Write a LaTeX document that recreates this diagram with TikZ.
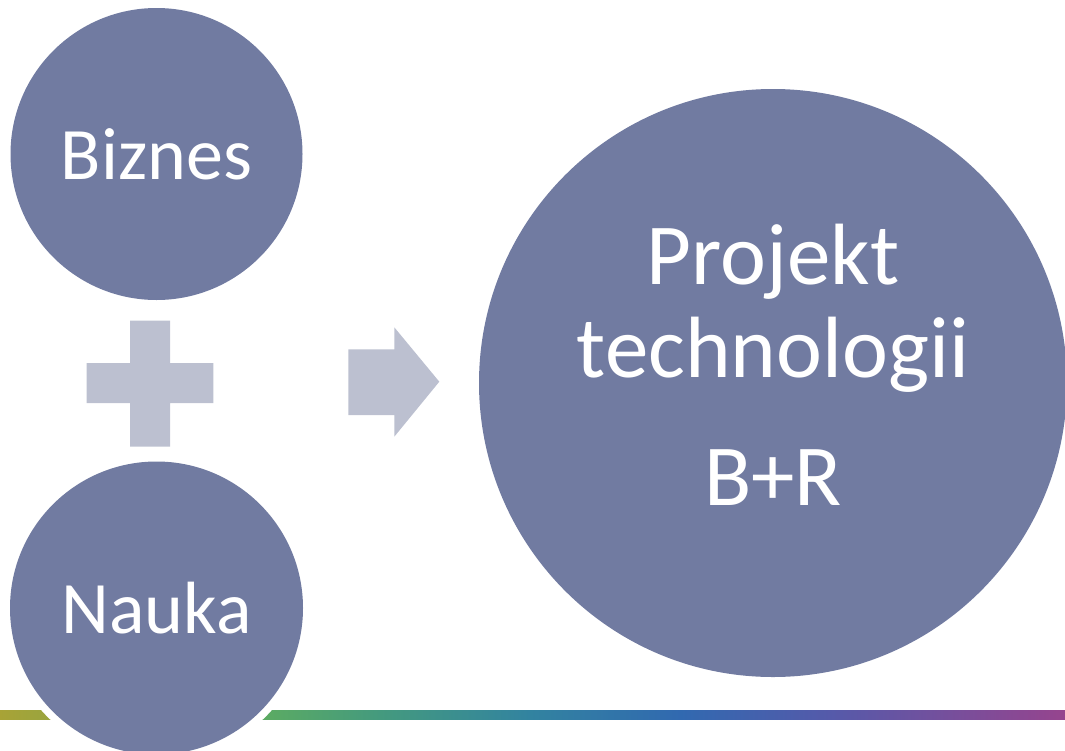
\documentclass[tikz,border=0pt]{standalone}
\usepackage{fontspec}
\setmainfont{Carlito}
\usepackage{tikz}
\usetikzlibrary{positioning}

\definecolor{discfill}{RGB}{113,123,161}
\definecolor{signfill}{RGB}{188,192,208}
\definecolor{olive}{RGB}{168,163,54}
\definecolor{leaf}{RGB}{90,170,100}
\definecolor{teal}{RGB}{68,154,126}
\definecolor{sea}{RGB}{50,131,160}
\definecolor{ocean}{RGB}{49,105,176}
\definecolor{indigo}{RGB}{85,90,170}
\definecolor{plum}{RGB}{150,68,142}

\tikzset{
  disc/.style={circle, fill=discfill, text=white, inner sep=0pt},
  sign/.style={fill=signfill, draw=none},
  bigtext/.style={text=white, align=center, font=\fontsize{87}{93}\selectfont}
}

\begin{document}
\begin{tikzpicture}[x=1pt, y=-1pt]
    \useasboundingbox (0,0) rectangle (1065,750);
    \clip (0,0) rectangle (1065,750);
    % colour bar at the bottom
    \shade[left color=olive, right color=leaf] (0,710) rectangle (270,719);
    \shade[left color=leaf, right color=teal] (270,710) rectangle (380,719);
    \shade[left color=teal, right color=sea] (380,710) rectangle (530,719);
    \shade[left color=sea, right color=ocean] (530,710) rectangle (680,719);
    \shade[left color=ocean, right color=indigo] (680,710) rectangle (830,719);
    \shade[left color=indigo, right color=plum] (830,710) rectangle (1065,719);
    \node[disc, minimum size=292pt, font=\fontsize{74}{89}\selectfont] (biznes) at (156.5,154) {Biznes};
    \node[circle, fill=white, minimum size=308pt, inner sep=0pt] (gap) at (156.5,608) {};
    \node[disc, minimum size=293pt, font=\fontsize{74}{89}\selectfont] (nauka) at (156.5,608) {Nauka};
    \node[disc, minimum size=588pt] (projekt) at (773,383) {};
    \node[bigtext, yshift=18pt] (projekt text) at (projekt.center) {Projekt\\technologii\\[35pt]B+R};
    % plus
    \path[sign] (86.7,363) -| (130,320.7) -| (170,363) -| (213.3,403) -| (170,446.7) -| (130,403) -| cycle;
    % arrow
    \path[sign] (348.3,349.3) -- (394.3,349.3) -- (394.3,327.3) -- (439.3,381.7)
      -- (394.3,436.7) -- (394.3,415) -- (348.3,415) -- cycle;
  \end{tikzpicture}
\end{document}
